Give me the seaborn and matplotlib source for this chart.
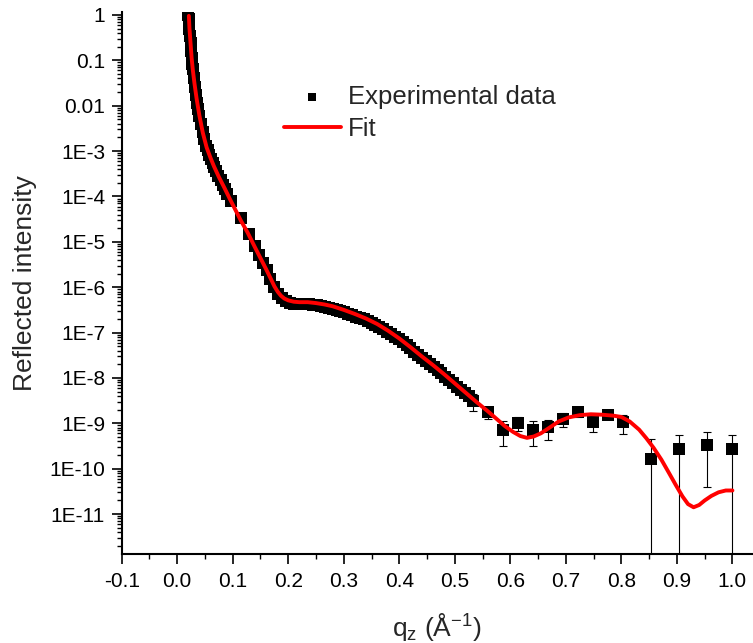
import numpy as np
import pandas as pd
import seaborn as sns
import matplotlib.pyplot as plt
from matplotlib.ticker import FixedLocator, LogLocator, MultipleLocator, NullFormatter

# Datos (log10 de la intensidad)
dense_q = [0.020, 0.021, 0.022, 0.023, 0.024, 0.025, 0.026, 0.027, 0.028, 0.030,
           0.032, 0.034, 0.036, 0.038, 0.040, 0.043, 0.046, 0.049, 0.052, 0.055,
           0.058, 0.061, 0.064, 0.067, 0.070, 0.074, 0.078, 0.082, 0.086, 0.090,
           0.097, 0.114, 0.129, 0.140, 0.147, 0.154, 0.161, 0.168, 0.175, 0.182,
           0.189, 0.196, 0.203, 0.210, 0.217, 0.224, 0.231, 0.238, 0.245, 0.252,
           0.259, 0.266, 0.273, 0.280, 0.287, 0.294, 0.301, 0.308, 0.315, 0.322,
           0.329, 0.336, 0.343, 0.350, 0.357, 0.364, 0.371, 0.378, 0.385, 0.392,
           0.399, 0.406, 0.413, 0.420, 0.427, 0.434, 0.441, 0.448, 0.455, 0.462,
           0.469, 0.476, 0.483, 0.490, 0.497, 0.504, 0.511, 0.518, 0.525]
dense_log = [-0.01, -0.10, -0.30, -0.46, -0.62, -0.79, -0.95, -1.08, -1.20, -1.40,
             -1.58, -1.76, -1.93, -2.07, -2.22, -2.41, -2.59, -2.74, -2.88, -2.98,
             -3.09, -3.18, -3.27, -3.35, -3.44, -3.54, -3.64, -3.74, -3.83, -3.94,
             -4.10, -4.48, -4.83, -5.10, -5.28, -5.46, -5.63, -5.82, -6.00, -6.14,
             -6.24, -6.30, -6.34, -6.36, -6.37, -6.37, -6.37, -6.38, -6.39, -6.40,
             -6.41, -6.43, -6.45, -6.47, -6.50, -6.52, -6.55, -6.58, -6.61, -6.65,
             -6.68, -6.71, -6.75, -6.79, -6.83, -6.88, -6.93, -6.98, -7.03, -7.09,
             -7.15, -7.21, -7.28, -7.35, -7.42, -7.49, -7.56, -7.63, -7.69, -7.76,
             -7.83, -7.90, -7.97, -8.04, -8.12, -8.19, -8.26, -8.33, -8.40]

# puntos finales con barras de error
tail_q = [0.532, 0.559, 0.586, 0.614, 0.641, 0.668, 0.695, 0.722, 0.749, 0.776,
          0.803, 0.854, 0.904, 0.955, 1.000]
tail_log = [-8.50, -8.75, -9.14, -8.99, -9.14, -9.09, -8.90, -8.76, -8.97, -8.81,
            -8.98, -9.79, -9.57, -9.47, -9.57]
tail_err = [1.3e-9, 5.5e-10, 4.0e-10, 3.3e-10, 4.0e-10, 3.9e-10, 4.3e-10, 3.5e-10,
            4.4e-10, 3.0e-10, 4.6e-10, 2.8e-10, 2.9e-10, 3.0e-10, 2.9e-10]

# ajuste
fit_q = [0.021, 0.0215, 0.022, 0.023, 0.024, 0.026, 0.028, 0.031, 0.035, 0.040,
         0.046, 0.053, 0.060, 0.066, 0.075, 0.085, 0.095, 0.105, 0.115, 0.127,
         0.140, 0.150, 0.160, 0.168, 0.175, 0.181, 0.187, 0.193, 0.200, 0.210,
         0.220, 0.235, 0.250, 0.265, 0.280, 0.300, 0.320, 0.340, 0.360, 0.380,
         0.400, 0.420, 0.440, 0.460, 0.480, 0.500, 0.520, 0.540, 0.560, 0.575,
         0.590, 0.605, 0.618, 0.630, 0.642, 0.655, 0.670, 0.687, 0.705, 0.725,
         0.745, 0.765, 0.785, 0.800, 0.815, 0.832, 0.845, 0.858, 0.872, 0.886,
         0.898, 0.910, 0.920, 0.930, 0.940, 0.950, 0.962, 0.975, 0.988, 1.000]
fit_log = [-0.02, -0.15, -0.28, -0.45, -0.62, -0.95, -1.20, -1.50, -1.85, -2.22,
           -2.59, -2.92, -3.15, -3.33, -3.57, -3.81, -4.06, -4.30, -4.54, -4.80,
           -5.12, -5.36, -5.60, -5.80, -5.98, -6.10, -6.19, -6.25, -6.29, -6.32,
           -6.33, -6.33, -6.35, -6.38, -6.42, -6.50, -6.59, -6.69, -6.81, -6.96,
           -7.13, -7.32, -7.52, -7.71, -7.91, -8.12, -8.33, -8.54, -8.74, -8.90,
           -9.06, -9.19, -9.28, -9.32, -9.29, -9.22, -9.10, -8.96, -8.87, -8.82,
           -8.80, -8.81, -8.83, -8.86, -8.96, -9.14, -9.33, -9.54, -9.80, -10.10,
           -10.36, -10.61, -10.78, -10.85, -10.80, -10.70, -10.60, -10.52, -10.48, -10.48]

y_ticks = [1, 0.1, 0.01, 1e-3, 1e-4, 1e-5, 1e-6, 1e-7, 1e-8, 1e-9, 1e-10, 1e-11]
y_ticklabels = ['1', '0.1', '0.01', '1E-3', '1E-4', '1E-5', '1E-6', '1E-7', '1E-8',
                '1E-9', '1E-10', '1E-11']
x_ticks = [-0.1, 0.0, 0.1, 0.2, 0.3, 0.4, 0.5, 0.6, 0.7, 0.8, 0.9, 1.0]
x_ticklabels = ['-0.1', '0.0', '0.1', '0.2', '0.3', '0.4', '0.5', '0.6', '0.7', '0.8',
                '0.9', '1.0']

dense = pd.DataFrame({'q': dense_q, 'I': 10.0 ** np.array(dense_log)})
tail = pd.DataFrame({'q': tail_q, 'I': 10.0 ** np.array(tail_log), 'err': tail_err})
fit = pd.DataFrame({'q': fit_q, 'I': 10.0 ** np.array(fit_log)})

sns.set_style('ticks')
plt.rcParams['font.family'] = ['Liberation Sans', 'DejaVu Sans']
plt.rcParams['mathtext.default'] = 'regular'
plt.rcParams['axes.unicode_minus'] = False

fig = plt.figure(figsize=(7.53, 6.43), dpi=100)
ax = fig.add_axes([0.1616, 0.1384, 0.8369, 0.8429])
ax.set_yscale('log')

ax.errorbar(tail['q'], tail['I'], yerr=tail['err'], fmt='none', ecolor='black',
            elinewidth=0.8, capsize=3, capthick=0.8, zorder=1)
sns.scatterplot(data=dense, x='q', y='I', marker='s', s=64, color='black',
                linewidth=0, label='Experimental data', ax=ax, zorder=2)
sns.scatterplot(data=tail, x='q', y='I', marker='s', s=64, color='black',
                linewidth=0, ax=ax, zorder=2)
sns.lineplot(data=fit, x='q', y='I', color='#ff0000', lw=2.8, sort=False,
             estimator=None, label='Fit', ax=ax, zorder=3)

ax.set_xlim(-0.1, 1.035)
ax.set_ylim(10 ** -11.88, 1.16)

ax.xaxis.set_major_locator(FixedLocator(x_ticks))
ax.set_xticklabels(x_ticklabels)
ax.xaxis.set_minor_locator(MultipleLocator(0.05))
ax.yaxis.set_major_locator(FixedLocator(y_ticks))
ax.set_yticklabels(y_ticklabels)
ax.yaxis.set_minor_locator(LogLocator(base=10, subs=np.arange(2, 10), numticks=100))
ax.yaxis.set_minor_formatter(NullFormatter())

ax.tick_params(which='major', direction='out', length=7, width=1.2, labelsize=15,
               color='black', labelcolor='black')
ax.tick_params(axis='y', which='major', pad=5)
ax.tick_params(axis='x', which='major', pad=6)
ax.tick_params(which='minor', direction='out', length=3.5, width=1.0, color='black')

sns.despine(ax=ax)
for s in ['left', 'bottom']:
    ax.spines[s].set_linewidth(1.5)
    ax.spines[s].set_color('black')

ax.set_xlabel('q$_z$ (Å$^{-1}$)', fontsize=19, labelpad=14)
ax.set_ylabel('Reflected intensity', fontsize=19, labelpad=9)

ax.legend(loc='upper left', bbox_to_anchor=(284 / 753, 1 - 85 / 643),
          bbox_transform=fig.transFigure, frameon=False, fontsize=18.5,
          borderpad=0, borderaxespad=0, handlelength=2.2, handletextpad=0.3,
          labelspacing=0.3, markerscale=0.7)

fig.savefig('out.png', dpi=100)
